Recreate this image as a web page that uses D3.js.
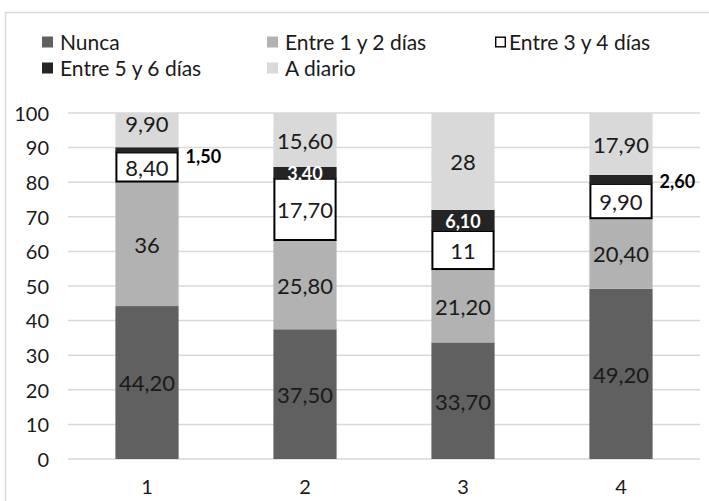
<!DOCTYPE html>
<html>
<head>
<meta charset="utf-8">
<script src="https://cdn.jsdelivr.net/npm/d3@7/dist/d3.min.js"></script>
<style>
  html, body { margin: 0; padding: 0; background: #fff; }
  svg { display: block; font-family: Lato, "Open Sans", sans-serif; }
</style>
</head>
<body>
<svg id="chart" width="709" height="501"></svg>
<script>
// Categories along the x axis
const categories = ["1", "2", "3", "4"];

// Series names (stack order, bottom to top)
const seriesNames = ["Nunca", "Entre 1 y 2 días", "Entre 3 y 4 días", "Entre 5 y 6 días", "A diario"];

// Values per series, one per category
const nunca      = [44.2, 37.5, 33.7, 49.2];
const entre1y2   = [36.0, 25.8, 21.2, 20.4];
const entre3y4   = [8.4, 17.7, 11.0, 9.9];
const entre5y6   = [1.5, 3.4, 6.1, 2.6];
const aDiario    = [9.9, 15.6, 28.0, 17.9];

// Y axis ticks
const yTicks = [0, 10, 20, 30, 40, 50, 60, 70, 80, 90, 100];

const seriesValues = [nunca, entre1y2, entre3y4, entre5y6, aDiario];

const fills   = ["#606060", "#b2b2b2", "#ffffff", "#242424", "#d9d9d9"];
const strokes = [null, null, "#000000", null, null];

const svg = d3.select("#chart");
const W = 709, H = 501;
const plot = { left: 68, right: 700, top: 113, bottom: 459 };

// Outer frame (top & left edges visible)
svg.append("line").attr("x1", 5.5).attr("x2", 5.5).attr("y1", 12).attr("y2", H)
  .attr("stroke", "#d9d9d9").attr("stroke-width", 1.5);
svg.append("line").attr("x1", 5).attr("x2", W).attr("y1", 12.5).attr("y2", 12.5)
  .attr("stroke", "#d9d9d9").attr("stroke-width", 1.5);

const x = d3.scaleBand().domain(categories).range([plot.left, plot.right]).paddingInner(0.6).paddingOuter(0.3);
const y = d3.scaleLinear().domain([0, 100]).range([plot.bottom, plot.top]);

// Gridlines
svg.append("g").selectAll("line").data(yTicks).join("line")
  .attr("x1", plot.left).attr("x2", plot.right)
  .attr("y1", d => y(d)).attr("y2", d => y(d))
  .attr("stroke", "#d9d9d9").attr("stroke-width", 1.5);

// Y axis labels
const yAxis = d3.axisLeft(y).tickValues(yTicks).tickSize(0).tickPadding(0);
const gy = svg.append("g").attr("transform", `translate(${49},0)`).call(yAxis);
gy.select(".domain").remove();
gy.selectAll("text").attr("font-family", "Lato").attr("font-size", 20).attr("fill", "#1a1a1a")
  .attr("dy", "0.36em");

// X axis labels
const xAxis = d3.axisBottom(x).tickSize(0).tickPadding(0);
const gx = svg.append("g").attr("transform", `translate(0,${487})`).call(xAxis);
gx.select(".domain").remove();
gx.selectAll("text").attr("font-family", "Lato").attr("font-size", 20).attr("fill", "#1a1a1a")
  .attr("dy", "0.36em");

// Stack data
const rows = categories.map((c, i) => {
  const r = { cat: c };
  seriesNames.forEach((s, k) => r[s] = seriesValues[k][i]);
  return r;
});
const stack = d3.stack().keys(seriesNames)(rows);

const fmt = v => (Number.isInteger(v) ? String(v) : v.toFixed(2).replace(".", ","));

stack.forEach((layer, k) => {
  const g = svg.append("g");
  g.selectAll("rect").data(layer).join("rect")
    .attr("x", d => x(d.data.cat) + (strokes[k] ? 1 : 0))
    .attr("width", x.bandwidth() - (strokes[k] ? 2 : 0))
    .attr("y", d => y(d[1]))
    .attr("height", d => y(d[0]) - y(d[1]))
    .attr("fill", fills[k])
    .attr("stroke", strokes[k] || "none")
    .attr("stroke-width", strokes[k] ? 2 : 0);
});

// Small vertical nudges so neighbouring labels don't collide ("series:category")
const labelNudge = { "4:1": -7, "3:1": 7, "3:4": 2 };

// Value labels
stack.forEach((layer, k) => {
  const g = svg.append("g");
  layer.forEach((d, i) => {
    const v = seriesValues[k][i];
    const cx = x(d.data.cat) + x.bandwidth() / 2;
    const cy = (y(d[0]) + y(d[1])) / 2 + (labelNudge[`${k}:${d.data.cat}`] || 0);
    const t = g.append("text").text(fmt(v))
      .attr("font-family", "Lato")
      .attr("dy", "0.36em");
    if (k === 3) {
      // thin dark segments: bold label, outside when the segment is narrow
      t.attr("font-weight", "bold").attr("font-size", 18);
      if (v < 3) {
        t.attr("x", x(d.data.cat) + x.bandwidth() + 7).attr("y", cy).attr("fill", "#000");
      } else {
        t.attr("x", cx).attr("y", cy + 1).attr("text-anchor", "middle").attr("fill", "#fff");
      }
    } else {
      t.attr("x", cx).attr("y", cy + 1).attr("text-anchor", "middle")
        .attr("font-size", 22).attr("fill", "#1a1a1a");
    }
  });
});

// Legend
const legendItems = [
  { k: 0, x: 42, y: 42, gap: 7 },
  { k: 1, x: 267, y: 42, gap: 7 },
  { k: 2, x: 495, y: 42, gap: 3 },
  { k: 3, x: 42, y: 68, gap: 7 },
  { k: 4, x: 267, y: 68, gap: 7 }
];
const lg = svg.append("g");
legendItems.forEach(it => {
  const outlined = !!strokes[it.k];
  lg.append("rect")
    .attr("x", it.x + (outlined ? 0.7 : 0)).attr("y", it.y - 5.5 + (outlined ? 0.7 : 0))
    .attr("width", outlined ? 9.6 : 11).attr("height", outlined ? 9.6 : 11)
    .attr("fill", fills[it.k])
    .attr("stroke", strokes[it.k] || "none").attr("stroke-width", outlined ? 1.4 : 0);
  lg.append("text").attr("x", it.x + 11 + it.gap).attr("y", it.y).attr("dy", "0.36em")
    .attr("font-family", "Lato").attr("font-size", 21).attr("fill", "#1a1a1a").text(seriesNames[it.k]);
});
</script>
</body>
</html>
